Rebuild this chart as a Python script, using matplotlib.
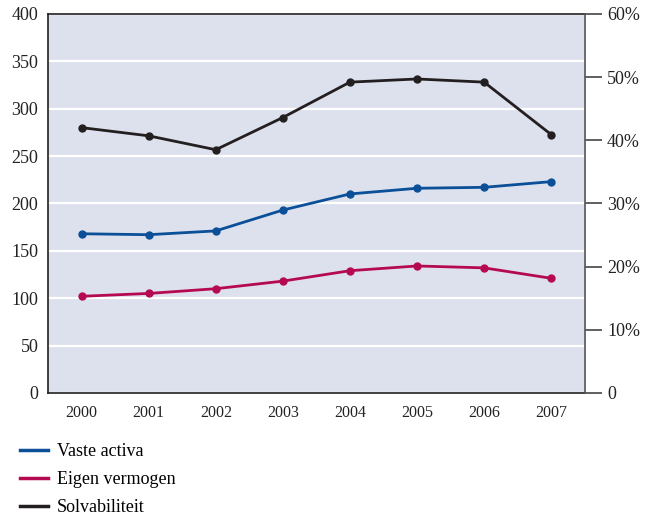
import numpy as np
import matplotlib.pyplot as plt
from matplotlib.ticker import FuncFormatter

plt.rcParams['font.family'] = ['Liberation Serif', 'DejaVu Serif']
plt.rcParams['figure.dpi'] = 100

# data
jaren = ['2000', '2001', '2002', '2003', '2004', '2005', '2006', '2007']
vaste_activa = [168, 167, 171, 193, 210, 216, 217, 223]
eigen_vermogen = [102, 105, 110, 118, 129, 134, 132, 121]
solvabiliteit = [42.0, 40.7, 38.5, 43.6, 49.2, 49.7, 49.2, 40.9]  # in %

blauw = '#0a4f97'
rood = '#b50a52'
zwart = '#231f20'
achtergrond = '#dde1ed'

fig = plt.figure(figsize=(6.49, 5.15))
ax = fig.add_axes([0.074, 0.237, 0.827, 0.736])
ax.set_facecolor(achtergrond)

x = np.arange(len(jaren))
lv, = ax.plot(x, vaste_activa, '-o', color=blauw, lw=2, ms=5, zorder=3)
le, = ax.plot(x, eigen_vermogen, '-o', color=rood, lw=2, ms=5, zorder=3)

ax.set_xlim(-0.5, 7.5)
ax.set_ylim(0, 400)
ax.set_yticks(range(0, 401, 50))
ax.set_xticks(x)
ax.set_xticklabels(jaren)
ax.tick_params(axis='both', length=0, colors='#222222')
ax.tick_params(axis='x', pad=9, labelsize=11.5)
ax.tick_params(axis='y', pad=7, labelsize=13)
ax.yaxis.grid(True, color='white', lw=1.6)
ax.set_axisbelow(True)
for s in ['left', 'top', 'bottom']:
    ax.spines[s].set_color(zwart)
    ax.spines[s].set_linewidth(1.2)
ax.spines['right'].set_visible(False)

# rechter as voor solvabiliteit
ax2 = ax.twinx()
ls, = ax2.plot(x, solvabiliteit, '-o', color=zwart, lw=2, ms=5, zorder=3)
ax2.set_ylim(0, 60)
ax2.set_yticks(range(0, 61, 10))
ax2.yaxis.set_major_formatter(FuncFormatter(lambda v, p: '0' if v == 0 else f'{int(v)}%'))
ax2.tick_params(axis='y', length=12, width=1.2, color='#444444', labelsize=13,
                labelcolor='#222222', pad=4)
ax2.spines['right'].set_color('#555555')
ax2.spines['right'].set_linewidth(1.2)
for s in ['left', 'top', 'bottom']:
    ax2.spines[s].set_visible(False)

leg = fig.legend([lv, le, ls], ['Vaste activa', 'Eigen vermogen', 'Solvabiliteit'],
                 loc='upper left', bbox_to_anchor=(0.031, 0.140), frameon=False,
                 fontsize=13, handlelength=1.55, handletextpad=0.5,
                 labelspacing=0.62, borderaxespad=0, borderpad=0)
for h in leg.legend_handles:
    h.set_marker('')
    h.set_linewidth(2.5)

fig.savefig('out.png', dpi=100)
